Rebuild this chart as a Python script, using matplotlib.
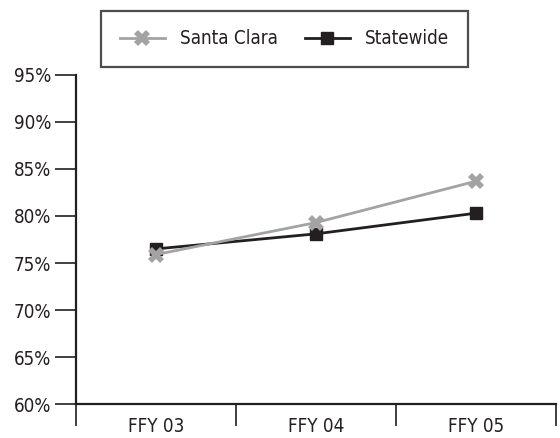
import matplotlib
matplotlib.use("Agg")
import matplotlib.pyplot as plt
from matplotlib.ticker import FixedLocator, NullFormatter

plt.rcParams['font.family'] = ['DejaVu Sans']
plt.rcParams['font.stretch'] = 'condensed'

categories = ["FFY 03", "FFY 04", "FFY 05"]
santa_clara = [75.9, 79.3, 83.7]
statewide = [76.5, 78.1, 80.3]
y_ticks = [60, 65, 70, 75, 80, 85, 90, 95]

ink = '#231f20'
fs = 13.5

fig = plt.figure(figsize=(5.6, 4.38), dpi=100)
ax = fig.add_axes([0.1357, 0.0776, 0.857, 0.7512])

x = list(range(len(categories)))
ax.plot(x, santa_clara, color='#a3a3a3', lw=2, marker='X', markersize=12,
        markeredgewidth=0, label='Santa Clara', zorder=4)
ax.plot(x, statewide, color=ink, lw=2, marker='s', markersize=8,
        label='Statewide', zorder=3)

ax.set_xlim(-0.5, len(categories) - 0.5)
ax.set_ylim(60, 95)
ax.set_yticks(y_ticks)
ax.set_yticklabels([f"{v}%" for v in y_ticks])

ax.xaxis.set_major_locator(FixedLocator([i - 0.5 for i in range(len(categories) + 1)]))
ax.xaxis.set_major_formatter(NullFormatter())
ax.xaxis.set_minor_locator(FixedLocator(x))
ax.set_xticklabels(categories, minor=True)
ax.tick_params(axis='x', which='major', length=16, width=1.2, direction='out', color=ink)
ax.tick_params(axis='x', which='minor', length=0, pad=9, labelsize=fs, labelcolor=ink)
ax.tick_params(axis='y', length=15, width=1.2, direction='out', pad=3, labelsize=fs,
               labelcolor=ink, color=ink)

for side in ('top', 'right'):
    ax.spines[side].set_visible(False)
for side in ('left', 'bottom'):
    ax.spines[side].set_linewidth(1.6)
    ax.spines[side].set_color(ink)

leg = fig.legend(loc='center', bbox_to_anchor=(0.508, 0.911), ncol=2, fontsize=fs,
                 frameon=True, fancybox=False, edgecolor=ink, handlelength=2.4,
                 columnspacing=1.45, borderpad=1.0, handletextpad=0.8)
leg.get_frame().set_linewidth(1.6)
for t in leg.get_texts():
    t.set_color(ink)

fig.savefig('out.png', dpi=100)
